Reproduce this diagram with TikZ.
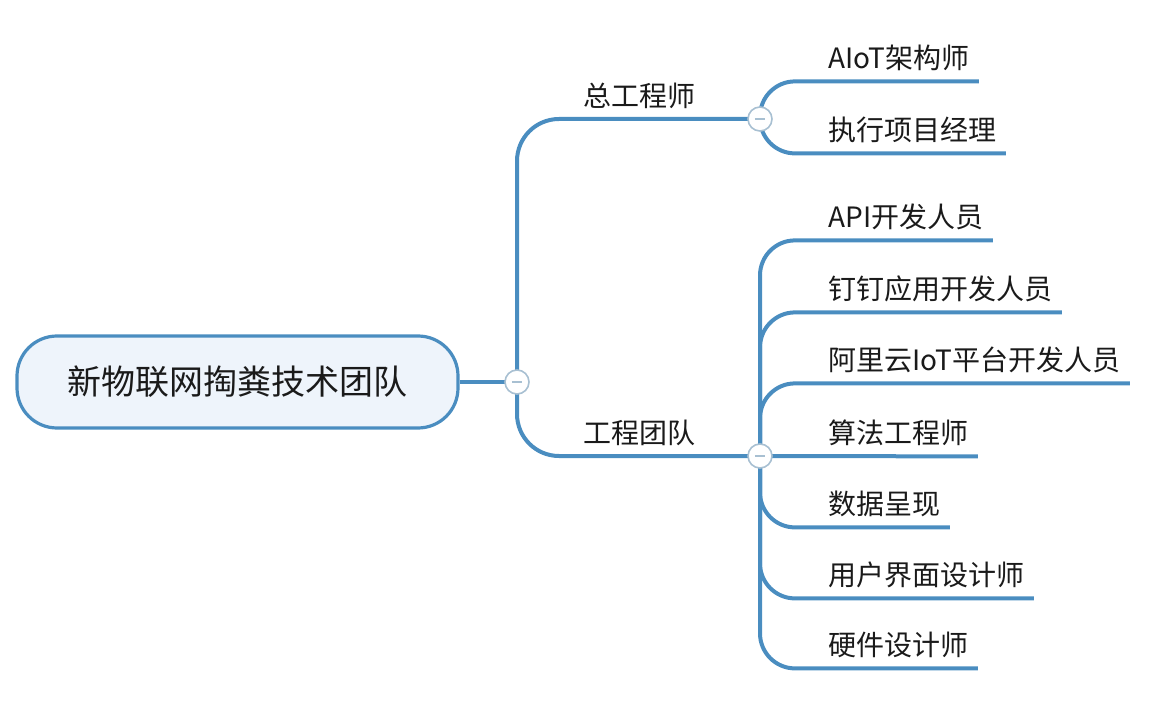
\documentclass[tikz,border=0pt]{standalone}
\usepackage{fontspec}
\setmainfont{Noto Sans CJK SC}
\usetikzlibrary{backgrounds}
\definecolor{linec}{HTML}{4A8DC0}
\definecolor{rootfill}{HTML}{EEF4FB}
\definecolor{circc}{HTML}{A8C0D2}
\definecolor{txt}{HTML}{1A1A1A}
\begin{document}
\begin{tikzpicture}[x=0.5pt,y=-0.5pt,
  branch/.style={draw=linec, line width=2pt, rounded corners=17.5pt},
  topic/.style={anchor=west, inner xsep=4.5pt, inner ysep=0pt, minimum height=23pt, text=txt, font=\fontsize{14pt}{16pt}\selectfont},
  fold/.style={circle, draw=circc, fill=white, line width=0.8pt, minimum size=12pt, inner sep=0pt,
    path picture={\draw[circc, line width=0.8pt] ([xshift=-2.6pt]path picture bounding box.center) -- ([xshift=2.6pt]path picture bounding box.center);}},
  rootbox/.style={draw=linec, fill=rootfill, line width=1.6pt, rounded corners=20pt, minimum width=220.5pt, minimum height=46pt, text=txt, font=\fontsize{17pt}{20pt}\selectfont}
]
\useasboundingbox (0,0) rectangle (1176,710);
\node[rootbox] (root) at (237.5,382) {新物联网掏粪技术团队};
\node[fold] (f0) at (517,382) {};
\node[fold] (f1) at (760,119) {};
\node[fold] (f2) at (760,456) {};
\node[topic] (t1) at (574,96) {总工程师};
\node[topic] (t2) at (574,433) {工程团队};
\node[topic] (a1) at (819,58) {AIoT架构师};
\node[topic] (a2) at (819,130) {执行项目经理};
\node[topic] (b1) at (819,217) {API开发人员};
\node[topic] (b2) at (819,289) {钉钉应用开发人员};
\node[topic] (b3) at (819,360) {阿里云IoT平台开发人员};
\node[topic] (b4) at (819,433) {算法工程师};
\node[topic] (b5) at (819,504) {数据呈现};
\node[topic] (b6) at (819,575) {用户界面设计师};
\node[topic] (b7) at (819,645) {硬件设计师};
\begin{scope}[on background layer]
\draw[branch] (root.east) -- (f0.center);
\draw[branch, rounded corners=21pt] (f0.center) |- (f1.center);
\draw[branch, rounded corners=21pt] (f0.center) |- (f2.center);
\foreach \n in {a1,a2} \draw[branch] (f1.center) |- (\n.south east);
\foreach \n in {b1,b2,b3,b5,b6,b7} \draw[branch] (f2.center) |- (\n.south east);
\draw[branch] (f2.center) -- (b4.south east);
\end{scope}
\end{tikzpicture}
\end{document}
